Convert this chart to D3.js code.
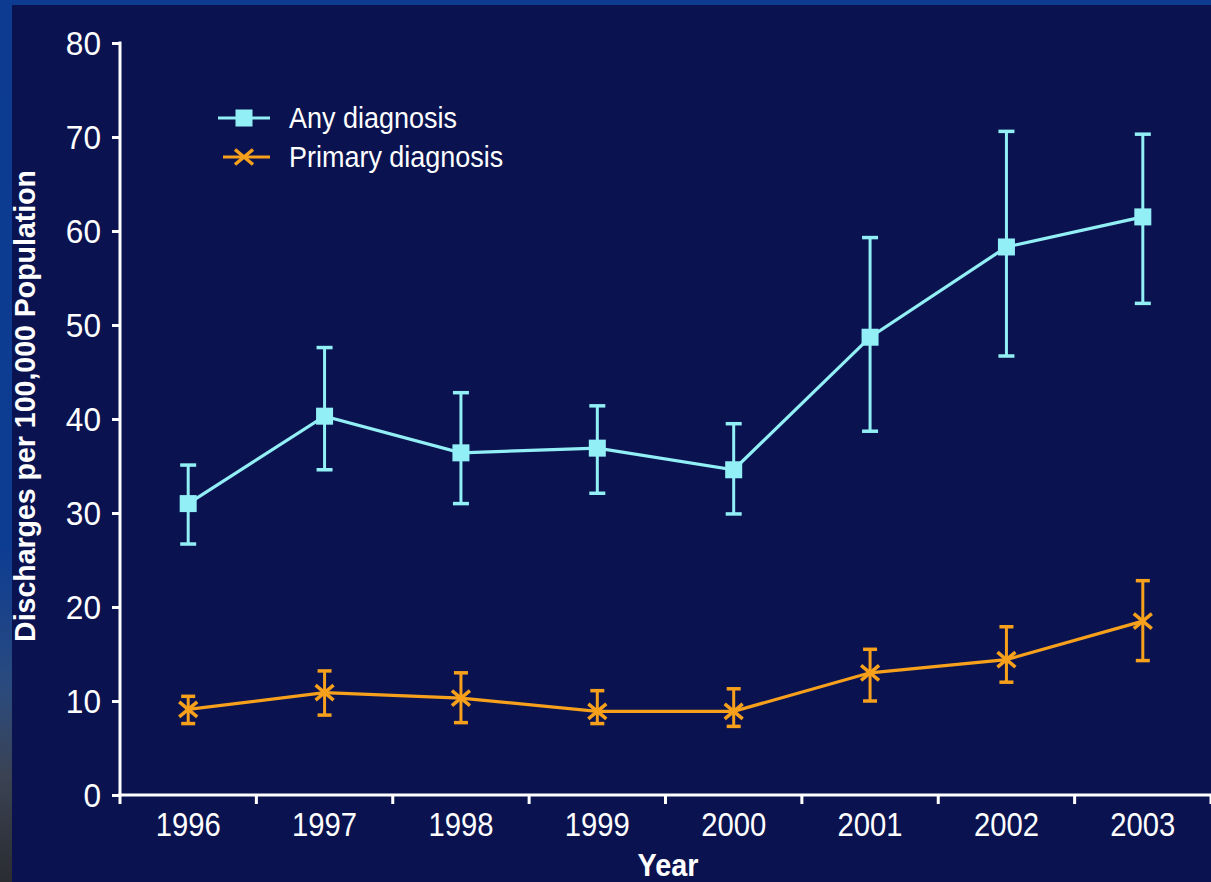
<!DOCTYPE html>
<html>
<head>
<meta charset="utf-8">
<script src="https://cdn.jsdelivr.net/npm/d3@7"></script>
<style>
  html, body { margin: 0; padding: 0; background: #0a1350; }
  svg { display: block; }
  text { font-family: "Liberation Sans", Arial, Helvetica, sans-serif; }
</style>
</head>
<body>
<svg id="chart" width="1211" height="882"></svg>
<script>
// Hospital discharges per 100,000 population, with confidence intervals
const years = ["1996", "1997", "1998", "1999", "2000", "2001", "2002", "2003"];

const anyValues = [31.0, 40.3, 36.4, 36.9, 34.6, 48.7, 58.3, 61.5];
const anyUpper  = [35.1, 47.6, 42.8, 41.4, 39.5, 59.3, 70.6, 70.3];
const anyLower  = [26.7, 34.6, 31.0, 32.1, 29.9, 38.7, 46.7, 52.3];

const primaryValues = [9.1, 10.9, 10.3, 8.9, 8.9, 13.0, 14.4, 18.5];
const primaryUpper  = [10.5, 13.2, 13.0, 11.1, 11.3, 15.5, 17.9, 22.8];
const primaryLower  = [7.6, 8.5, 7.7, 7.6, 7.3, 10.0, 12.0, 14.3];

const yTicks = [0, 10, 20, 30, 40, 50, 60, 70, 80];
const seriesNames = ["Any diagnosis", "Primary diagnosis"];

const W = 1211, H = 882;
const CYAN = "#93eff6", ORANGE = "#f6a01c", AXIS = "#ffffff", BG = "#0a1350";

const svg = d3.select("#chart");

// Horizontally condensed text (Helvetica-Condensed look)
function condense(sel, s) {
  sel.each(function () {
    const t = d3.select(this);
    const x0 = +t.attr("x") || 0;
    t.attr("x", x0 / s).attr("transform", `scale(${s},1)`);
  });
}

// Frame: blue strip along top and left, fading to grey at lower left
const defs = svg.append("defs");
const grad = defs.append("linearGradient").attr("id", "leftStrip")
  .attr("x1", 0).attr("y1", 0).attr("x2", 0).attr("y2", 1);
[[0, "#0d3b92"], [0.62, "#0d3c93"], [0.78, "#2b4b7e"], [0.88, "#3a4253"], [1, "#2a2c31"]]
  .forEach(([o, c]) => grad.append("stop").attr("offset", o).attr("stop-color", c));

svg.append("rect").attr("width", W).attr("height", H).attr("fill", BG);
svg.append("rect").attr("x", 0).attr("y", 0).attr("width", W).attr("height", 5).attr("fill", "#0d3b92");
svg.append("rect").attr("x", 0).attr("y", 0).attr("width", 12).attr("height", H).attr("fill", "url(#leftStrip)");

// Scales
const x = d3.scaleBand().domain(years).range([120, 1211]).padding(0);
const cx = d => x(d) + x.bandwidth() / 2;
const y = d3.scaleLinear().domain([0, 80]).range([795, 43]);

// Y axis
const yAxis = svg.append("g").attr("transform", "translate(120,0)")
  .call(d3.axisLeft(y).tickValues(yTicks).tickSize(8).tickPadding(11).tickSizeOuter(0));
yAxis.select(".domain").remove();
yAxis.selectAll(".tick line").attr("stroke", AXIS).attr("stroke-width", 3);
yAxis.selectAll(".tick text").attr("fill", AXIS).attr("font-size", 34).attr("dy", "0.34em")
  .call(condense, 0.93);
svg.append("line").attr("x1", 120).attr("x2", 120).attr("y1", y(80) - 1.5).attr("y2", 804)
  .attr("stroke", AXIS).attr("stroke-width", 3);

// X axis: labels at band centres, ticks on band boundaries
const xAxis = svg.append("g").attr("transform", "translate(0,795)")
  .call(d3.axisBottom(x).tickSize(0).tickPadding(17));
xAxis.select(".domain").remove();
xAxis.selectAll(".tick text").attr("fill", AXIS).attr("font-size", 34).attr("dy", "0.71em")
  .call(condense, 0.86);
svg.append("line").attr("x1", 118).attr("x2", W).attr("y1", 795).attr("y2", 795)
  .attr("stroke", AXIS).attr("stroke-width", 3);
svg.append("g").selectAll("line").data(years)
  .join("line")
  .attr("x1", (d, i) => x(years[0]) + x.step() * (i + 1))
  .attr("x2", (d, i) => x(years[0]) + x.step() * (i + 1))
  .attr("y1", 795).attr("y2", 804)
  .attr("stroke", AXIS).attr("stroke-width", 3);

// Axis titles
svg.append("text").attr("x", 668).attr("y", 876).attr("text-anchor", "middle")
  .attr("fill", AXIS).attr("font-size", 31).attr("font-weight", "bold").text("Year")
  .call(condense, 0.93);
svg.append("text").attr("transform", "translate(35,406) rotate(-90) scale(0.95,1)")
  .attr("text-anchor", "middle")
  .attr("fill", AXIS).attr("font-size", 30).attr("font-weight", "bold")
  .text("Discharges per 100,000 Population");

// Series drawing
function drawSeries(vals, lo, hi, color, capHalf, marker) {
  const g = svg.append("g");
  const pts = years.map((yr, i) => ({ yr, v: vals[i], lo: lo[i], hi: hi[i] }));
  // error bars
  g.selectAll("line.err").data(pts).join("line").attr("class", "err")
    .attr("x1", d => cx(d.yr)).attr("x2", d => cx(d.yr))
    .attr("y1", d => y(d.hi)).attr("y2", d => y(d.lo))
    .attr("stroke", color).attr("stroke-width", 3);
  ["hi", "lo"].forEach(k => {
    g.selectAll("line.cap" + k).data(pts).join("line").attr("class", "cap" + k)
      .attr("x1", d => cx(d.yr) - capHalf).attr("x2", d => cx(d.yr) + capHalf)
      .attr("y1", d => y(d[k])).attr("y2", d => y(d[k]))
      .attr("stroke", color).attr("stroke-width", 3.5);
  });
  // connecting line
  g.append("path").datum(pts)
    .attr("d", d3.line().x(d => cx(d.yr)).y(d => y(d.v)))
    .attr("fill", "none").attr("stroke", color).attr("stroke-width", 3.2);
  // markers
  g.selectAll("g.mk").data(pts).join("g").attr("class", "mk")
    .attr("transform", d => `translate(${cx(d.yr)},${y(d.v)})`)
    .each(function () { marker(d3.select(this), color); });
}

const squareMarker = (sel, color) => sel.append("rect")
  .attr("x", -8.5).attr("y", -8.5).attr("width", 17).attr("height", 17).attr("fill", color);
const crossMarker = (sel, color) => sel.append("path")
  .attr("d", "M-9,-7.5L9,7.5M-9,7.5L9,-7.5").attr("stroke", color).attr("stroke-width", 3.5)
  .attr("fill", "none");

drawSeries(primaryValues, primaryLower, primaryUpper, ORANGE, 7, crossMarker);
drawSeries(anyValues, anyLower, anyUpper, CYAN, 8, squareMarker);

// Legend
const legend = svg.append("g");
const legendItems = [
  { name: seriesNames[0], color: CYAN, marker: squareMarker, x1: 218, y: 118 },
  { name: seriesNames[1], color: ORANGE, marker: crossMarker, x1: 223, y: 157 }
];
legendItems.forEach(it => {
  legend.append("line").attr("x1", it.x1).attr("x2", 270).attr("y1", it.y).attr("y2", it.y)
    .attr("stroke", it.color).attr("stroke-width", 3);
  it.marker(legend.append("g").attr("transform", `translate(244,${it.y})`), it.color);
  legend.append("text").attr("x", 289).attr("y", it.y).attr("dy", "0.36em")
    .attr("fill", AXIS).attr("font-size", 29).text(it.name)
    .call(condense, 0.93);
});
</script>
</body>
</html>
